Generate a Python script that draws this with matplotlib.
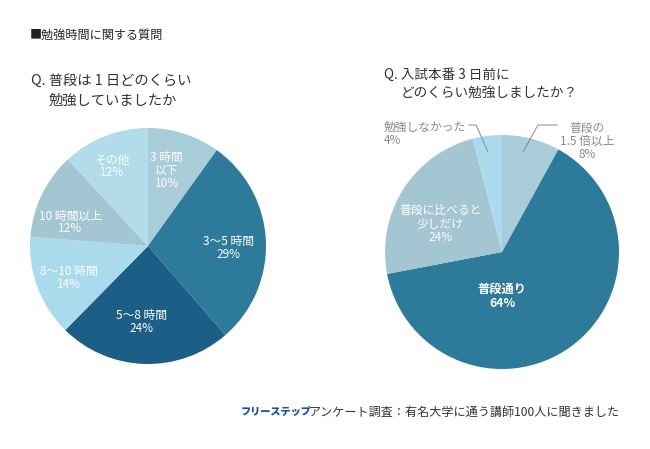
import numpy as np
import matplotlib
matplotlib.use("Agg")
import matplotlib.pyplot as plt

plt.rcParams['font.family'] = ['Noto Sans CJK JP', 'DejaVu Sans']

# ---- data ----
left_labels = ["3 時間\n以下", "3〜5 時間", "5〜8 時間", "8〜10 時間", "10 時間以上", "その他"]
left_values = [10, 29, 24, 14, 12, 12]
left_colors = ["#a8ccd8", "#2e7a9a", "#1c5e85", "#aadbec", "#a4c6d2", "#b2dcea"]

right_labels = ["普段の\n1.5 倍以上", "普段通り", "普段に比べると\n少しだけ", "勉強しなかった"]
right_values = [8, 64, 24, 4]
right_colors = ["#a8ccd8", "#2e7a9a", "#a4c6d2", "#aadbec"]

W, H = 650, 449
fig = plt.figure(figsize=(6.5, 4.49), dpi=100)
ax = fig.add_axes([0, 0, 1, 1])

def Y(py):
    return H - py

# ---- left pie ----
lc = (148, Y(246)); lr = 118
wl, _ = ax.pie(left_values, colors=left_colors, startangle=90, counterclock=False,
               center=lc, radius=lr, frame=True, wedgeprops=dict(linewidth=0))
l_dist = [0.66, 0.68, 0.65, 0.72, 0.69, 0.74]
l_shift = [4, -4, -3, 1.5, 9, 3]
for w, lab, v, d, s in zip(wl, left_labels, left_values, l_dist, l_shift):
    a = np.deg2rad((w.theta1 + w.theta2) / 2 + s)
    x = lc[0] + d * lr * np.cos(a)
    y = lc[1] + d * lr * np.sin(a)
    ax.text(x, y, f"{lab}\n{v}%", ha="center", va="center", color="white",
            fontsize=8.5, linespacing=1.0)

# ---- right pie ----
rc = (502, Y(252)); rr = 117
wr, _ = ax.pie(right_values, colors=right_colors, startangle=90, counterclock=False,
               center=rc, radius=rr, frame=True, wedgeprops=dict(linewidth=0))
# inside labels
for idx, d, s, bold in [(1, 0.38, -36, True), (2, 0.58, 8.4, False)]:
    w = wr[idx]
    a = np.deg2rad((w.theta1 + w.theta2) / 2 + s)
    x = rc[0] + d * rr * np.cos(a)
    y = rc[1] + d * rr * np.sin(a)
    ax.text(x, y, f"{right_labels[idx]}\n{right_values[idx]}%", ha="center", va="center",
            color="white", fontsize=8.8 if bold else 8.5, linespacing=1.05,
            fontweight="bold" if bold else "normal")

# outside labels with leader lines
gray = "#8a8a8a"
ax.text(587, Y(141), f"{right_labels[0]}\n{right_values[0]}%", ha="center", va="center",
        color=gray, fontsize=8.5, linespacing=1.0)
ax.plot([557, 538, 523], [Y(125), Y(125), Y(152)], color=gray, lw=0.7)
ax.text(384, Y(134), f"{right_labels[3]}\n{right_values[3]}%", ha="left", va="center",
        color=gray, fontsize=8.5, linespacing=1.0)
ax.plot([469, 476, 488], [Y(125), Y(125), Y(152)], color=gray, lw=0.7)

# ---- titles ----
ax.text(30, Y(35), "■勉強時間に関する質問", ha="left", va="center", fontsize=8.7, color="#222222")
ax.text(31, Y(81), "Q. 普段は 1 日どのくらい", ha="left", va="center", fontsize=10.3, color="#333333")
ax.text(49, Y(101), "勉強していましたか", ha="left", va="center", fontsize=10.3, color="#333333")
ax.text(384, Y(75), "Q. 入試本番 3 日前に", ha="left", va="center", fontsize=9.8, color="#333333")
ax.text(401, Y(94), "どのくらい勉強しましたか？", ha="left", va="center", fontsize=9.8, color="#333333")

# ---- footer ----
ax.text(241, Y(412), "フリーステップ", ha="left", va="center", fontsize=7.3,
        fontweight="black", color="#1b4e9b", style="italic")
ax.text(309, Y(412), "アンケート調査：有名大学に通う講師100人に聞きました", ha="left", va="center",
        fontsize=8.7, color="#333333")

ax.set_xlim(0, W)
ax.set_ylim(0, H)
ax.set_aspect("equal")
ax.axis("off")
fig.savefig("out.png", dpi=100, facecolor="white")
